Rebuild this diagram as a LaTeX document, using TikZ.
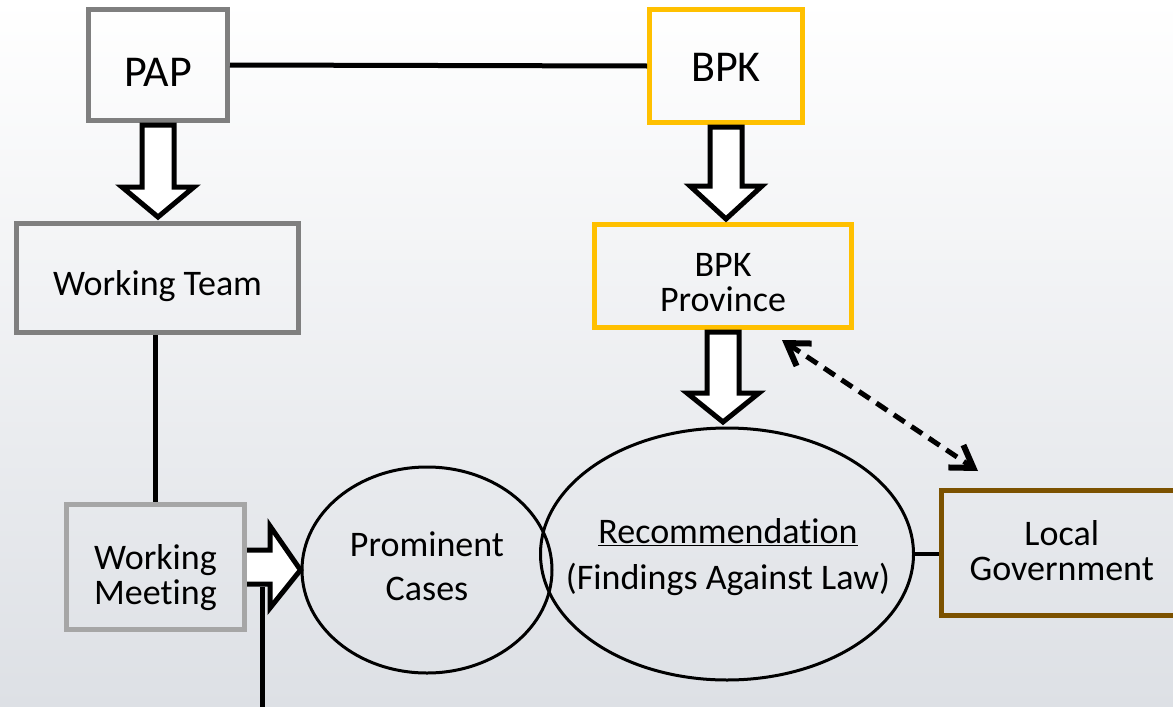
\documentclass[tikz,border=0pt]{standalone}
\usepackage{fontspec}
\setmainfont{Carlito}[RawFeature=-liga]
\usetikzlibrary{arrows.meta,calc,shapes.geometric}
\definecolor{boxgray}{RGB}{127,127,127}
\definecolor{lightgray}{RGB}{166,166,166}
\definecolor{gold}{RGB}{255,192,0}
\definecolor{brown}{RGB}{124,82,0}
\definecolor{bgbottom}{RGB}{221,224,229}
\tikzset{
  box/.style={draw, line width=5pt, fill=none, inner sep=0pt},
  txt/.style={inner sep=0pt, align=center, font=\fontsize{36}{35}\selectfont},
  bigtxt/.style={inner sep=0pt, align=center, font=\fontsize{44}{48}\selectfont},
  oval/.style={draw, ellipse, line width=3pt, inner sep=0pt},
  blockarrow/.style={draw=black, fill=white, line width=5pt, miter limit=10},
  link/.style={line width=5pt},
  mybarb/.tip={Straight Barb[length=21pt,width=27pt,line width=6pt]},
}
\begin{document}
\begin{tikzpicture}[x=1pt,y=-1pt]
\useasboundingbox (0,0) rectangle (1173,707);
\shade[top color=white, middle color={rgb,255:red,246;green,247;blue,248}, bottom color=bgbottom] (0,0) rectangle (1173,707);

\node[box, draw=boxgray, minimum width=139pt, minimum height=111pt] (pap) at (158,65) {};
\node[bigtxt] at ($(pap)+(0,7)$) {PAP};
\node[box, draw=gold, minimum width=153pt, minimum height=113pt] (bpk) at (726,66) {};
\node[bigtxt] at ($(bpk)+(0,1)$) {BPK};
\node[box, draw=boxgray, minimum width=282pt, minimum height=109pt] (wt) at (157.5,278) {};
\node[txt] at ($(wt)+(0,8)$) {Working Team};
\node[box, draw=gold, minimum width=257pt, minimum height=103pt] (bpkp) at (723,276) {};
\node[txt] at ($(bpkp)+(0,7)$) {BPK\\Province};
\node[box, draw=lightgray, minimum width=178pt, minimum height=125pt] (wm) at (155.5,567) {};
\node[txt] at ($(wm)+(0,11)$) {Working\\Meeting};
\node[box, draw=brown, minimum width=236pt, minimum height=125pt] (lg) at (1059.75,553) {};
\node[txt] at ($(lg)+(2,-2)$) {Local\\Government};

\node[oval, minimum width=250pt, minimum height=206pt] (pc) at (427,570) {};
\node[txt, font=\fontsize{36}{44}\selectfont] at ($(pc)+(0,-4)$) {Prominent\\Cases};
\node[oval, minimum width=373pt, minimum height=252pt] (rec) at (727,554) {};
\node[txt, font=\fontsize{36}{46}\selectfont] at ($(rec)+(1,3)$) {\underline{Recommendation}\\(Findings Against Law)};

% connectors
\draw[link] (pap.east) -- (bpk.west);
\draw[link] (wt.south -| 155,0) -- (wm.north -| 155,0);
\draw[line width=4pt] (rec.east) -- (lg.west |- rec.east);
\coordinate (vbot) at (262,712);
\draw[line width=5pt] (262,587) -- (vbot);

% block arrows
\draw[blockarrow] ($(pap.south)+(-16,2)$) -- ++(0,62) -- ++(-20,0) -- ($(pap.south)+(0,94)$) -- ($(pap.south)+(36,64)$) -- ++(-20,0) -- ($(pap.south)+(16,2)$) -- cycle;
\draw[blockarrow] ($(bpk.south)+(-16,2)$) -- ++(0,59) -- ++(-20,0) -- ($(bpk.south)+(0,94)$) -- ($(bpk.south)+(36,61)$) -- ++(-20,0) -- ($(bpk.south)+(16,2)$) -- cycle;
\draw[blockarrow] ($(bpkp.south)+(-16,2)$) -- ++(0,61) -- ++(-20,0) -- ($(bpkp.south)+(0,92)$) -- ($(bpkp.south)+(36,63)$) -- ++(-20,0) -- ($(bpkp.south)+(16,2)$) -- cycle;
\draw[blockarrow] ($(wm.east)+(0,-17)$) -- ++(23,0) -- ++(0,-24) -- (pc.west) -- ($(wm.east)+(23,41)$) -- ++(0,-24) -- ($(wm.east)+(0,17)$);

% dashed double arrow
\coordinate (da) at (782,340);
\coordinate (db) at (978,471);
\draw[line width=5pt, dash pattern=on 13pt off 8pt, mybarb-mybarb] (da) -- (db);
\end{tikzpicture}
\end{document}
